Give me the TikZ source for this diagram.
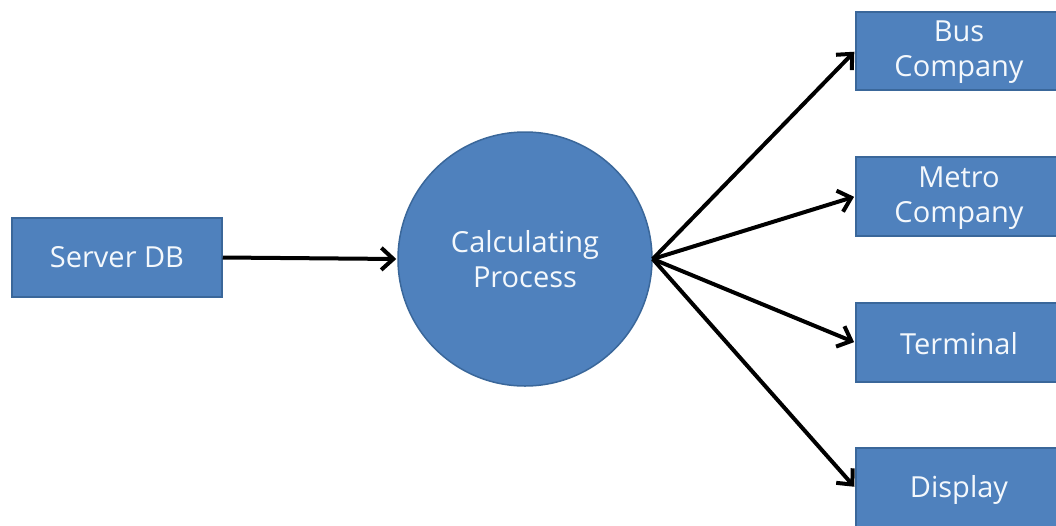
\documentclass[tikz,border=0pt]{standalone}
\usepackage{fontspec}
\setmainfont{Open Sans}
\usetikzlibrary{arrows.meta}
\definecolor{boxfill}{HTML}{4F81BD}
\definecolor{boxdraw}{HTML}{3A679A}
\definecolor{txt}{HTML}{F4F8FC}
\begin{document}
\begin{tikzpicture}[x=1pt,y=-1pt,
  blockbox/.style={draw=boxdraw,line width=1.5pt,fill=boxfill,text=txt,font=\fontsize{29}{35}\selectfont,align=center,inner sep=0pt},
  lbl/.style={text=txt,font=\fontsize{29}{35}\selectfont,align=center,inner sep=0pt},
  procnode/.style={circle,draw=boxdraw,line width=1.5pt,fill=boxfill,text=txt,font=\fontsize{29}{35}\selectfont,align=center,minimum size=254pt,inner sep=0pt},
  flow/.style={line width=4pt,-{Straight Barb[length=12pt,width=22pt,line width=4pt]},shorten >=1pt}]
\useasboundingbox (0,0) rectangle (1056,525);
\clip (0,0) rectangle (1056,525);
\node[blockbox,minimum width=210pt,minimum height=79pt] (db) at (117,257.5) {Server DB};
\node[procnode] (proc) at (525,259) {Calculating\\Process};
\node[blockbox,anchor=west,minimum width=220pt,minimum height=78pt] (bus) at (855,51) {};
\node[blockbox,anchor=west,minimum width=220pt,minimum height=79pt] (metro) at (855,196.5) {};
\node[blockbox,anchor=west,minimum width=220pt,minimum height=79pt] (term) at (855,342.5) {};
\node[blockbox,anchor=west,minimum width=220pt,minimum height=79pt] (disp) at (855,487.5) {};
\node[lbl] (bust) at (959,52) {Bus\\Company};
\node[lbl] (metrot) at (959,198) {Metro\\Company};
\node[lbl] (termt) at (959,344) {Terminal};
\node[lbl] (dispt) at (959,490) {Display};
\draw[flow] (db.east) -- (proc.west);
\draw[flow] (proc.east) -- (bus.west);
\draw[flow] (proc.east) -- (metro.west);
\draw[flow] (proc.east) -- (term.west);
\draw[flow] (proc.east) -- (disp.west);
\end{tikzpicture}
\end{document}
